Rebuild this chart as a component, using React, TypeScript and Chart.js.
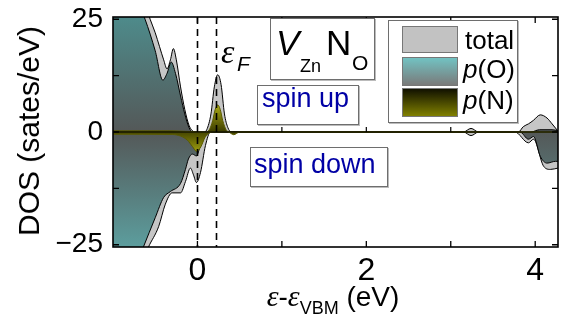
import React, { useEffect, useRef } from 'react';
import { Chart, registerables } from 'chart.js';
Chart.register(...registerables);

// ---------- data ----------
const xRange = [-1, 4.27];
const yRange = [-25.5, 25.5];
const xTickValues = [0, 1, 2, 3, 4];
const xTickLabels = ['0', '', '2', '', '4'];
const yTickValues = [-25, -12.5, 0, 12.5, 25];
const yTickLabels = ['\u221225', '', '0', '', '25'];
const zeroLineTicks = [1, 2, 3];
const markerLines = [0, 0.225]; // VBM and Fermi level (eV)

// spin up, total DOS
const totalUpX = [-1, -0.8, -0.65, -0.56, -0.5, -0.45, -0.4, -0.36, -0.32, -0.285, -0.25, -0.2, -0.15, -0.1, -0.06, -0.03, 0.08, 0.11, 0.16, 0.2, 0.24, 0.28, 0.32, 0.36, 0.4, 0.45, 3.15, 3.24, 3.33, 3.8, 3.86, 3.92, 3.98, 4.06, 4.14, 4.2, 4.27];
const totalUpY = [40, 36, 30, 25, 22, 19, 16, 14, 16, 18.5, 16, 10, 5, 1.5, 0.3, 0, 0, 0.5, 4, 10, 12.7, 10.5, 4, 1, 0, 0, 0, 0.8, 0, 0, 1.2, 1.8, 2.6, 3.8, 3.1, 1.8, 0.2];
// spin up, p(O)
const pOUpX = [-1, -0.8, -0.62, -0.5, -0.41, -0.36, -0.31, -0.26, -0.2, -0.15, -0.1, -0.06, 0.1, 3.95, 4.05, 4.2, 4.27];
const pOUpY = [38, 33, 25, 18, 11.5, 13, 15.5, 13, 8, 4, 1, 0, 0, 0, 0.5, 0.5, 0.3];
// spin up, p(N)
const pNUpX = [-1, -0.3, -0.15, 0.1, 0.14, 0.18, 0.21, 0.24, 0.27, 0.3, 0.34, 0.38, 0.5, 4.27];
const pNUpY = [0.25, 0.25, 0.15, 0, 0.5, 2.5, 5, 6, 5, 2.5, 0.5, 0, 0, 0];

// spin down, total DOS
const totalDnX = [-1, -0.8, -0.58, -0.46, -0.38, -0.3, -0.2, -0.142, -0.083, -0.047, -0.012, 0.036, 0.095, 0.154, 3.15, 3.24, 3.33, 3.76, 3.92, 3.98, 4.1, 4.18, 4.27];
const totalDnY = [-40, -35, -25.5, -21, -16, -13.5, -13.5, -11, -8, -9.5, -11.2, -9, -3, 0, 0, -0.8, 0, 0, -2.4, -1.6, -7.6, -8.3, -8];
// spin down, p(O)
const pODnX = [-1, -0.8, -0.64, -0.5, -0.4, -0.32, -0.2, -0.142, -0.107, -0.06, -0.012, 0.036, 0.118, 3.82, 3.92, 3.98, 4.06, 4.14, 4.24, 4.27];
const pODnY = [-38, -33, -25.5, -19, -14.5, -13.2, -11.4, -8.3, -6, -4.9, -5.3, -3, 0, 0, -1.6, -1, -5.4, -6.9, -6.5, -6.5];
// spin down, p(N)
const pNDnX = [-1, -0.3, -0.2, -0.12, -0.06, -0.01, 0.04, 0.09, 0.14, 0.2, 0.36, 0.43, 0.5, 4.27];
const pNDnY = [-0.5, -0.55, -0.9, -1.8, -3.2, -4.3, -3.3, -1.2, -0.2, 0, 0, -0.6, 0, 0];

const SANS = '"Liberation Sans", Arial, Helvetica, sans-serif';
const SERIF = '"Liberation Serif", "Times New Roman", serif';
const BLUE = 'rgb(0,0,165)';

const pts = (xs: number[], ys: number[]) => xs.map((x, i) => ({ x, y: ys[i] }));

const vGrad = (stops: [number, string][]) => (c: any) => {
  const chart = c.chart;
  const { ctx, chartArea } = chart;
  const y = chart.scales && chart.scales.y;
  if (!chartArea || !y) return stops[0][1];
  const p0 = y.getPixelForValue(stops[0][0]);
  const p1 = y.getPixelForValue(stops[stops.length - 1][0]);
  const g = ctx.createLinearGradient(0, p0, 0, p1);
  stops.forEach(([v, col]) => {
    const t = Math.min(1, Math.max(0, (y.getPixelForValue(v) - p0) / (p1 - p0)));
    g.addColorStop(t, col);
  });
  return g;
};

const decorPlugin = {
  id: 'decor',
  afterDatasetsDraw(chart: any) {
    const { ctx, chartArea: a, scales } = chart;
    const x = scales.x, y = scales.y;
    ctx.save();
    ctx.strokeStyle = '#000';
    ctx.setLineDash([7, 5]);
    ctx.lineWidth = 1.6;
    for (const v of markerLines) {
      const px = Math.round(x.getPixelForValue(v)) + 0.5;
      ctx.beginPath();
      ctx.moveTo(px, a.top);
      ctx.lineTo(px, a.bottom);
      ctx.stroke();
    }
    ctx.setLineDash([]);
    const y0 = y.getPixelForValue(0);
    ctx.lineWidth = 1.2;
    ctx.beginPath();
    ctx.moveTo(a.left, y0);
    ctx.lineTo(a.right, y0);
    ctx.stroke();
    for (const v of zeroLineTicks) {
      const px = x.getPixelForValue(v);
      ctx.beginPath();
      ctx.moveTo(px, y0);
      ctx.lineTo(px, y0 - 5);
      ctx.stroke();
    }
    ctx.lineWidth = 1.3;
    const L = 6;
    for (const v of xTickValues) {
      const px = x.getPixelForValue(v);
      ctx.beginPath();
      ctx.moveTo(px, a.bottom); ctx.lineTo(px, a.bottom - L);
      ctx.moveTo(px, a.top); ctx.lineTo(px, a.top + L);
      ctx.stroke();
    }
    for (const v of yTickValues) {
      const py = y.getPixelForValue(v);
      ctx.beginPath();
      ctx.moveTo(a.left, py); ctx.lineTo(a.left + L, py);
      ctx.moveTo(a.right, py); ctx.lineTo(a.right - L, py);
      ctx.stroke();
    }
    ctx.lineWidth = 1.6;
    ctx.strokeRect(a.left, a.top, a.right - a.left, a.bottom - a.top);
    ctx.restore();
  },
};

const T = ({ x, base, size, children, style }: any) => (
  <div
    style={{
      position: 'absolute',
      left: x,
      top: base - 0.845 * size,
      fontSize: size,
      lineHeight: `${size}px`,
      whiteSpace: 'nowrap',
      fontFamily: SANS,
      color: '#000',
      ...style,
    }}
  >
    {children}
  </div>
);

const Box = ({ l, t, w, h }: any) => (
  <div
    style={{
      position: 'absolute',
      left: l,
      top: t,
      width: w,
      height: h,
      boxSizing: 'border-box',
      border: '1px solid #6e6e6e',
      background: '#fff',
      boxShadow: '1px 1px 0 #bbb',
    }}
  />
);

export default function App() {
  const ref = useRef<HTMLCanvasElement | null>(null);

  useEffect(() => {
    if (!ref.current) return;
    const common = { pointRadius: 0, cubicInterpolationMode: 'monotone' as const, fill: 'origin' };
    const teal = 'rgb(92,156,156)';
    const tealDark = 'rgb(84,88,88)';
    const chart = new Chart(ref.current, {
      type: 'line',
      data: {
        datasets: [
          { ...common, data: pts(totalUpX, totalUpY), backgroundColor: '#c6c6c6', borderColor: '#000', borderWidth: 1, order: 3 },
          { ...common, data: pts(totalDnX, totalDnY), backgroundColor: '#c6c6c6', borderColor: '#000', borderWidth: 1, order: 3 },
          { ...common, data: pts(pOUpX, pOUpY), backgroundColor: vGrad([[25, 'rgb(78,138,138)'], [0, tealDark]]), borderColor: '#000', borderWidth: 1, order: 2 },
          { ...common, data: pts(pODnX, pODnY), backgroundColor: vGrad([[0, tealDark], [-25, teal]]), borderColor: '#000', borderWidth: 1, order: 2 },
          { ...common, data: pts(pNUpX, pNUpY), backgroundColor: vGrad([[6, 'rgb(170,170,20)'], [0, 'rgb(60,60,0)']]), borderColor: 'rgb(90,90,0)', borderWidth: 1, order: 1 },
          { ...common, data: pts(pNDnX, pNDnY), backgroundColor: vGrad([[0, 'rgb(70,70,0)'], [-4.5, 'rgb(160,160,15)']]), borderColor: 'rgb(90,90,0)', borderWidth: 1, order: 1 },
        ] as any,
      },
      options: {
        responsive: false,
        animation: false,
        layout: { padding: { left: 0, right: 3, top: 17, bottom: 0 } },
        plugins: { legend: { display: false }, tooltip: { enabled: false } },
        scales: {
          x: {
            type: 'linear',
            min: xRange[0],
            max: xRange[1],
            grid: { display: false, drawTicks: false },
            border: { display: false },
            afterBuildTicks: (s: any) => { s.ticks = xTickValues.map((v) => ({ value: v })); },
            afterFit: (s: any) => { s.height = 74; s.paddingLeft = 0; s.paddingRight = 0; },
            ticks: {
              autoSkip: false,
              maxRotation: 0,
              padding: 5,
              color: '#000',
              font: { family: SANS, size: 32 },
              callback: (_v: any, i: number) => xTickLabels[i],
            },
          },
          y: {
            type: 'linear',
            min: yRange[0],
            max: yRange[1],
            grid: { display: false, drawTicks: false },
            border: { display: false },
            afterBuildTicks: (s: any) => { s.ticks = yTickValues.map((v) => ({ value: v })); },
            afterFit: (s: any) => { s.width = 113; s.paddingTop = 0; s.paddingBottom = 0; },
            ticks: {
              autoSkip: false,
              padding: 10,
              color: '#000',
              font: { family: SANS, size: 28 },
              callback: (_v: any, i: number) => yTickLabels[i],
            },
          },
        },
      } as any,
      plugins: [decorPlugin],
    });
    return () => chart.destroy();
  }, []);

  return (
    <div style={{ position: 'absolute', left: 0, top: 0, width: 561, height: 321, background: '#fff', overflow: 'hidden', fontFamily: SANS }}>
      <canvas ref={ref} width={561} height={321} style={{ position: 'absolute', left: 0, top: 0 }} />

      <div
        style={{
          position: 'absolute', left: 29, top: 131, transform: 'translate(-50%,-50%) rotate(-90deg)',
          fontSize: 30, lineHeight: '30px', whiteSpace: 'nowrap', fontFamily: SANS, color: '#000',
        }}
      >
        DOS (sates/eV)
      </div>

      <div
        style={{
          position: 'absolute', left: 333, top: 306 - 0.845 * 28, transform: 'translateX(-50%)',
          fontSize: 28, lineHeight: '28px', whiteSpace: 'nowrap', fontFamily: SANS, color: '#000',
        }}
      >
        <span style={{ fontFamily: SERIF, fontStyle: 'italic', fontSize: 30 }}>ε</span>
        <span>-</span>
        <span style={{ fontFamily: SERIF, fontStyle: 'italic', fontSize: 30 }}>ε</span>
        <span style={{ fontSize: 18, position: 'relative', top: 8 }}>VBM</span>
        <span> (eV)</span>
      </div>

      <T x={221} base={64} size={34} style={{ fontFamily: SERIF, fontStyle: 'italic' }}>ε</T>
      <T x={237} base={71} size={21} style={{ fontStyle: 'italic' }}>F</T>

      <Box l={270} t={18} w={105} h={62} />
      <T x={276} base={55} size={35} style={{ fontStyle: 'italic' }}>V</T>
      <T x={300} base={72} size={18}>Zn</T>
      <T x={326} base={55} size={35}>N</T>
      <T x={352} base={70} size={21}>O</T>

      <Box l={257} t={85} w={102} h={40} />
      <T x={262} base={108} size={27} style={{ color: BLUE }}>spin up</T>
      <Box l={250} t={147} w={138} h={40} />
      <T x={254} base={174} size={27} style={{ color: BLUE }}>spin down</T>

      <Box l={388} t={20} w={130} h={103} />
      <div style={{ position: 'absolute', left: 402, top: 26, width: 56, height: 27, boxSizing: 'border-box', border: '1px solid #777', background: '#c2c2c2' }} />
      <div style={{ position: 'absolute', left: 402, top: 57, width: 56, height: 29, boxSizing: 'border-box', border: '1px solid #777', background: 'linear-gradient(#72c2c2, #7a7a7a)' }} />
      <div style={{ position: 'absolute', left: 402, top: 88, width: 56, height: 29, boxSizing: 'border-box', border: '1px solid #777', background: 'linear-gradient(#111100, #808000)' }} />
      <T x={465} base={49} size={26}>total</T>
      <T x={463} base={78} size={26}><span style={{ fontStyle: 'italic' }}>p</span>(O)</T>
      <T x={463} base={109} size={26}><span style={{ fontStyle: 'italic' }}>p</span>(N)</T>
    </div>
  );
}
